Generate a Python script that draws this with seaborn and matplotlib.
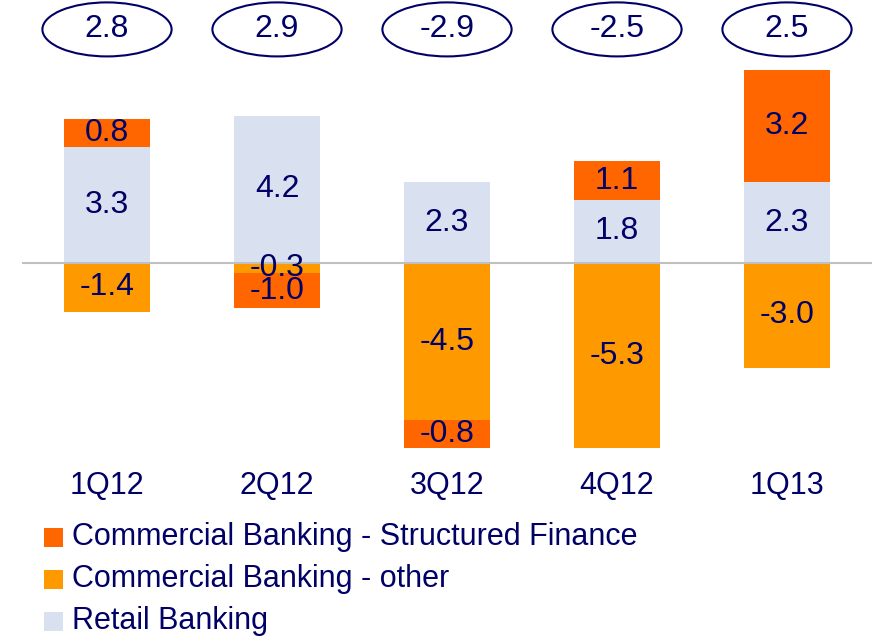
import matplotlib
matplotlib.use("Agg")
import matplotlib.pyplot as plt
import seaborn as sns
import numpy as np
from matplotlib.patches import Ellipse

sns.set_style("white")
plt.rcParams['font.family'] = ['Liberation Sans', 'DejaVu Sans']

# data
quarters = ['1Q12', '2Q12', '3Q12', '4Q12', '1Q13']
retail = [3.3, 4.2, 2.3, 1.8, 2.3]
cb_other = [-1.4, -0.3, -4.5, -5.3, -3.0]
cb_sf = [0.8, -1.0, -0.8, 1.1, 3.2]
totals = ['2.8', '2.9', '-2.9', '-2.5', '2.5']

navy = '#000066'
c_sf = '#FF6600'
c_other = '#FF9900'
c_retail = '#D9E0EF'

fig = plt.figure(figsize=(8.75, 6.36), dpi=100)
ax = fig.add_axes([22/875, 1 - 460/636, 850/875, 460/636])

x = np.arange(len(quarters))
retail = np.array(retail)
cb_other = np.array(cb_other)
cb_sf = np.array(cb_sf)

# stacking: positives above zero, negatives below
sf_bottom = np.where(cb_sf >= 0, retail, cb_other)

bar_kw = dict(width=0.506, ax=ax, saturation=1, linewidth=0, edgecolor='none')
sns.barplot(x=quarters, y=retail, color=c_retail, **bar_kw)
sns.barplot(x=quarters, y=cb_other, color=c_other, **bar_kw)
sns.barplot(x=quarters, y=cb_sf, bottom=sf_bottom, color=c_sf, **bar_kw)

ax.axhline(0, color='#C0C0C0', lw=1.5, zorder=5)

# segment labels
for i in range(len(quarters)):
    segs = [(0, retail[i]), (0, cb_other[i]), (sf_bottom[i], cb_sf[i])]
    for b, v in segs:
        ax.text(x[i], b + v / 2, f'{v:.1f}', ha='center', va='center',
                color=navy, fontsize=23, zorder=6)

ax.set_xlim(-0.5, 4.5)
ax.set_ylim(-5.63, 7.51)

# totals in ellipses
for i, t in enumerate(totals):
    e = Ellipse((x[i], 6.67), width=0.76, height=54/35, facecolor='white',
                edgecolor=navy, lw=1.5, clip_on=False, zorder=6)
    ax.add_patch(e)
    ax.text(x[i], 6.67, t, ha='center', va='center', color=navy, fontsize=23, zorder=7)

ax.set_yticks([])
ax.tick_params(axis='x', length=0, pad=8, labelsize=22, labelcolor=navy)
for s in ax.spines.values():
    s.set_visible(False)

# legend
labels = ['Commercial Banking - Structured Finance', 'Commercial Banking - other', 'Retail Banking']
cols = [c_sf, c_other, c_retail]
for k, (lab, col) in enumerate(zip(labels, cols)):
    yc = 1 - (537 + 42 * k) / 636
    fig.patches.append(plt.Rectangle((44/875, yc - 9.5/636), 19/875, 19/636,
                                     transform=fig.transFigure, facecolor=col, edgecolor='none'))
    fig.text(72/875, yc, lab, va='center', ha='left', color=navy, fontsize=22)

fig.savefig('out.png', dpi=100)
